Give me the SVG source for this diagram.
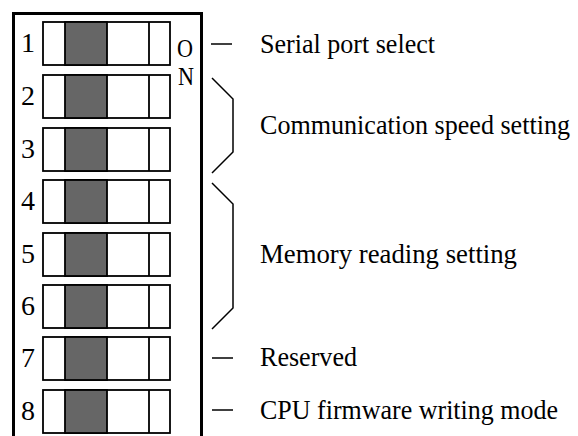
<svg xmlns="http://www.w3.org/2000/svg" width="578" height="436" viewBox="0 0 578 436">
<defs>
<style>
text { font-family: "Liberation Serif", "Times New Roman", serif; font-size: 27px; fill: #000; }
.num { text-anchor: middle; font-size: 28px; }
.on { text-anchor: middle; font-size: 26px; }
.frame { fill: none; stroke: #000; stroke-width: 3; }
.sw { fill: #fff; stroke: #000; stroke-width: 1.8; }
.knob { fill: #666; stroke: #000; stroke-width: 1.8; }
.div { stroke: #000; stroke-width: 1.8; }
.conn { fill: none; stroke: #000; stroke-width: 1.5; }
</style>
<g id="switch">
<rect class="sw" x="43" y="0" width="127" height="43"/>
<rect class="knob" x="65" y="0" width="42" height="43"/>
<line class="div" x1="149" y1="0" x2="149" y2="43"/>
</g>
</defs>
<rect width="578" height="436" fill="#fff"/>
<g id="frame">
<path class="frame" d="M13.5,436 V13.5 H201.5 V436"/>
<text x="185" y="57" class="on" textLength="16" lengthAdjust="spacingAndGlyphs">O</text>
<text x="186" y="85" class="on" textLength="16" lengthAdjust="spacingAndGlyphs">N</text>
</g>
<g id="sw1"><use href="#switch" y="22"/><text x="28" y="52" class="num">1</text></g>
<g id="sw2"><use href="#switch" y="75"/><text x="28" y="105" class="num">2</text></g>
<g id="sw3"><use href="#switch" y="128"/><text x="28" y="158" class="num">3</text></g>
<g id="sw4"><use href="#switch" y="180"/><text x="28" y="210" class="num">4</text></g>
<g id="sw5"><use href="#switch" y="233"/><text x="28" y="263" class="num">5</text></g>
<g id="sw6"><use href="#switch" y="285"/><text x="28" y="315" class="num">6</text></g>
<g id="sw7"><use href="#switch" y="337"/><text x="28" y="367" class="num">7</text></g>
<g id="sw8"><use href="#switch" y="390"/><text x="28" y="420" class="num">8</text></g>
<g id="connectors">
<line class="conn" x1="211" y1="44" x2="232" y2="44"/>
<polyline class="conn" points="212,78 233,99 233,152 212,173"/>
<polyline class="conn" points="212,183 233,204 233,308 212,329"/>
<line class="conn" x1="212" y1="358" x2="233" y2="358"/>
<line class="conn" x1="212" y1="410" x2="233" y2="410"/>
</g>
<g id="label-serial"><text x="260" y="53" textLength="175" lengthAdjust="spacingAndGlyphs">Serial port select</text></g>
<g id="label-comm"><text x="260" y="134" font-size="25" textLength="310" lengthAdjust="spacingAndGlyphs">Communication speed setting</text></g>
<g id="label-memory"><text x="260" y="263" textLength="257" lengthAdjust="spacingAndGlyphs">Memory reading setting</text></g>
<g id="label-reserved"><text x="260" y="366" textLength="97" lengthAdjust="spacingAndGlyphs">Reserved</text></g>
<g id="label-cpu"><text x="260" y="419" textLength="298" lengthAdjust="spacingAndGlyphs">CPU firmware writing mode</text></g>
</svg>
